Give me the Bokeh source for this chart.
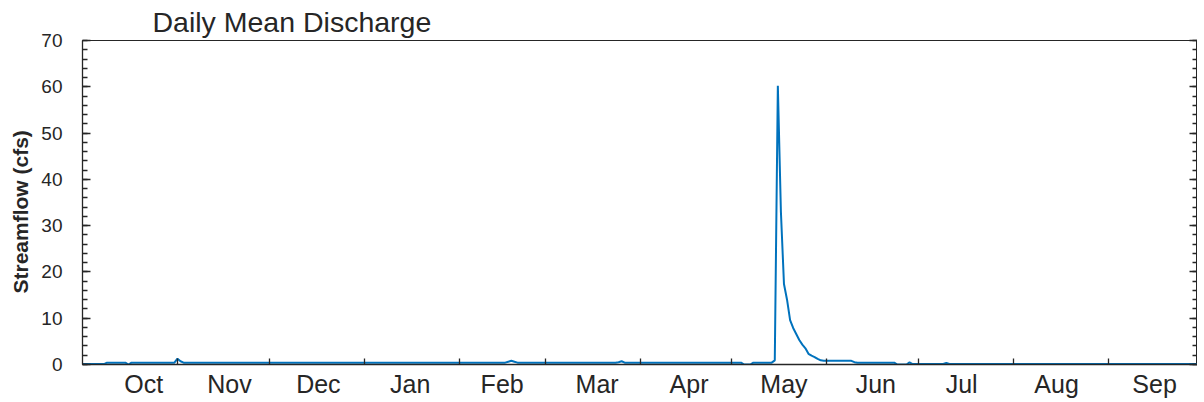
import numpy as np
from bokeh.plotting import figure
from bokeh.models import (Range1d, FixedTicker, SingleIntervalTicker, LinearAxis,
                          CustomJSTickFormatter, Title)
from bokeh.embed import file_html
from bokeh.resources import INLINE

# ---- data (water year, daily mean discharge in cfs) ----
month_names = ["Oct", "Nov", "Dec", "Jan", "Feb", "Mar", "Apr", "May", "Jun", "Jul", "Aug", "Sep"]
month_days = [31, 30, 31, 31, 28, 31, 30, 31, 30, 31, 31, 30]
label_day = [20, 48, 77, 107, 137, 168, 198, 229, 259, 287, 318, 350]

oct_cfs = [0.1, 0.1, 0.1, 0.1, 0.1, 0.1, 0.1, 0.1, 0.4, 0.4, 0.4, 0.4, 0.4, 0.4, 0.4, 0.0,
           0.4, 0.4, 0.4, 0.4, 0.4, 0.4, 0.4, 0.4, 0.4, 0.4, 0.4, 0.4, 0.4, 0.4, 0.4]
nov_cfs = [1.25, 0.7, 0.4, 0.4, 0.4, 0.4, 0.4, 0.4, 0.4, 0.4, 0.4, 0.4, 0.4, 0.4, 0.4,
           0.4, 0.4, 0.4, 0.4, 0.4, 0.4, 0.4, 0.4, 0.4, 0.4, 0.4, 0.4, 0.4, 0.4, 0.4]
dec_cfs = [0.4, 0.4, 0.4, 0.4, 0.4, 0.4, 0.4, 0.4, 0.4, 0.4, 0.4, 0.4, 0.4, 0.4, 0.4, 0.4,
           0.4, 0.4, 0.4, 0.4, 0.4, 0.4, 0.4, 0.4, 0.4, 0.4, 0.4, 0.4, 0.4, 0.4, 0.4]
jan_cfs = [0.4, 0.4, 0.4, 0.4, 0.4, 0.4, 0.4, 0.4, 0.4, 0.4, 0.4, 0.4, 0.4, 0.4, 0.4, 0.4,
           0.4, 0.4, 0.4, 0.4, 0.4, 0.4, 0.4, 0.4, 0.4, 0.4, 0.4, 0.4, 0.4, 0.4, 0.4]
feb_cfs = [0.4, 0.4, 0.4, 0.4, 0.4, 0.4, 0.4, 0.4, 0.4, 0.4, 0.4, 0.4, 0.4, 0.4, 0.4, 0.4,
           0.6, 0.8, 0.6, 0.4, 0.4, 0.4, 0.4, 0.4, 0.4, 0.4, 0.4, 0.4]
mar_cfs = [0.4, 0.4, 0.4, 0.4, 0.4, 0.4, 0.4, 0.4, 0.4, 0.4, 0.4, 0.4, 0.4, 0.4, 0.4, 0.4,
           0.4, 0.4, 0.4, 0.4, 0.4, 0.4, 0.4, 0.4, 0.5, 0.7, 0.4, 0.4, 0.4, 0.4, 0.4]
apr_cfs = [0.4, 0.4, 0.4, 0.4, 0.4, 0.4, 0.4, 0.4, 0.4, 0.4, 0.4, 0.4, 0.4, 0.4, 0.4,
           0.4, 0.4, 0.4, 0.4, 0.4, 0.4, 0.4, 0.4, 0.4, 0.4, 0.4, 0.4, 0.4, 0.4, 0.4]
may_cfs = [0.4, 0.4, 0.4, 0.4, 0.0, 0.0, 0.0, 0.4, 0.4, 0.4, 0.4, 0.4, 0.4, 0.4, 0.9, 60.2,
           33.0, 17.4, 14.0, 9.6, 7.9, 6.6, 5.3, 4.3, 3.5, 2.3, 1.9, 1.6, 1.2, 0.9, 0.8]
jun_cfs = [0.8, 0.8, 0.8, 0.8, 0.8, 0.8, 0.8, 0.8, 0.8, 0.5, 0.4, 0.4, 0.4, 0.4, 0.4,
           0.4, 0.4, 0.4, 0.4, 0.4, 0.4, 0.4, 0.4, 0.0, 0.0, 0.0, 0.0, 0.45, 0.1, 0.1]
jul_cfs = [0.1, 0.1, 0.1, 0.1, 0.1, 0.1, 0.1, 0.1, 0.1, 0.35, 0.1, 0.1, 0.1, 0.1, 0.1, 0.1,
           0.1, 0.1, 0.1, 0.1, 0.1, 0.1, 0.1, 0.1, 0.1, 0.1, 0.1, 0.1, 0.1, 0.1, 0.1]
aug_cfs = [0.1, 0.1, 0.1, 0.1, 0.1, 0.1, 0.1, 0.1, 0.1, 0.1, 0.1, 0.1, 0.1, 0.1, 0.1, 0.1,
           0.1, 0.1, 0.1, 0.1, 0.1, 0.1, 0.1, 0.1, 0.1, 0.1, 0.1, 0.1, 0.1, 0.1, 0.1]
sep_cfs = [0.1, 0.1, 0.1, 0.1, 0.1, 0.1, 0.1, 0.1, 0.1, 0.1, 0.1, 0.1, 0.1, 0.1, 0.1,
           0.1, 0.1, 0.1, 0.1, 0.1, 0.1, 0.1, 0.1, 0.1, 0.1, 0.1, 0.1, 0.1, 0.1, 0.1]

discharge = (oct_cfs + nov_cfs + dec_cfs + jan_cfs + feb_cfs + mar_cfs +
             apr_cfs + may_cfs + jun_cfs + jul_cfs + aug_cfs + sep_cfs)
day = list(range(len(discharge)))

month_start = [int(v) for v in np.concatenate([[0], np.cumsum(month_days)])]

FONT = "Liberation Sans"
INK = "#262626"

p = figure(frame_width=1115, frame_height=324, x_range=Range1d(0, 364), y_range=Range1d(0, 70),
           output_backend="svg", toolbar_location=None,
           min_border_left=74, min_border_right=0, min_border_top=0, min_border_bottom=0)

p.title.text = "Daily Mean Discharge"
p.title.text_font = FONT
p.title.text_font_size = "28.5px"
p.title.text_font_style = "normal"
p.title.text_color = INK
p.title.offset = 70
p.title.standoff = 6

p.line(day, discharge, line_color="#0072BD", line_width=2)

p.xgrid.visible = False
p.ygrid.visible = False
p.outline_line_color = INK
p.outline_line_width = 1
p.background_fill_color = "white"
p.border_fill_color = "white"

xa = p.xaxis[0]
xa.ticker = FixedTicker(ticks=label_day, minor_ticks=month_start[1:-1])
xa.major_label_overrides = {d: n for d, n in zip(label_day, month_names)}
xa.major_tick_in = 0
xa.major_tick_out = 0
xa.minor_tick_in = 6
xa.minor_tick_out = 0
xa.minor_tick_line_color = INK
xa.minor_tick_line_width = 1.3
xa.axis_line_color = INK
xa.axis_line_width = 1.3
xa.major_label_text_font = FONT
xa.major_label_text_font_size = "25px"
xa.major_label_text_color = INK
xa.major_label_standoff = 5

yt = SingleIntervalTicker(interval=10, num_minor_ticks=5)
ya = p.yaxis[0]
ya.ticker = yt
ya.major_tick_in = 8
ya.major_tick_out = 0
ya.minor_tick_in = 5
ya.minor_tick_out = 0
ya.major_tick_line_color = INK
ya.minor_tick_line_color = INK
ya.major_tick_line_width = 1.3
ya.minor_tick_line_width = 1.3
ya.axis_line_color = INK
ya.axis_line_width = 1.3
ya.major_label_text_font = FONT
ya.major_label_text_font_size = "19px"
ya.major_label_text_color = INK
ya.major_label_standoff = 20

ylab = Title(text="Streamflow (cfs)", align="left", offset=71, standoff=13,
             text_font=FONT, text_font_size="21px", text_font_style="bold",
             text_color=INK)
p.add_layout(ylab, "left")

ra = LinearAxis(ticker=SingleIntervalTicker(interval=10, num_minor_ticks=5),
                formatter=CustomJSTickFormatter(code="return ''"))
ra.major_tick_in = 8
ra.major_tick_out = 0
ra.minor_tick_in = 5
ra.minor_tick_out = 0
ra.major_tick_line_color = INK
ra.minor_tick_line_color = INK
ra.major_tick_line_width = 1.3
ra.minor_tick_line_width = 1.3
ra.axis_line_color = INK
ra.axis_line_width = 1.3
ra.major_label_standoff = 0
ra.major_label_text_font_size = "0px"
ra.axis_label_standoff = 0
p.add_layout(ra, "right")

open("out.html", "w").write(file_html(p, INLINE))
